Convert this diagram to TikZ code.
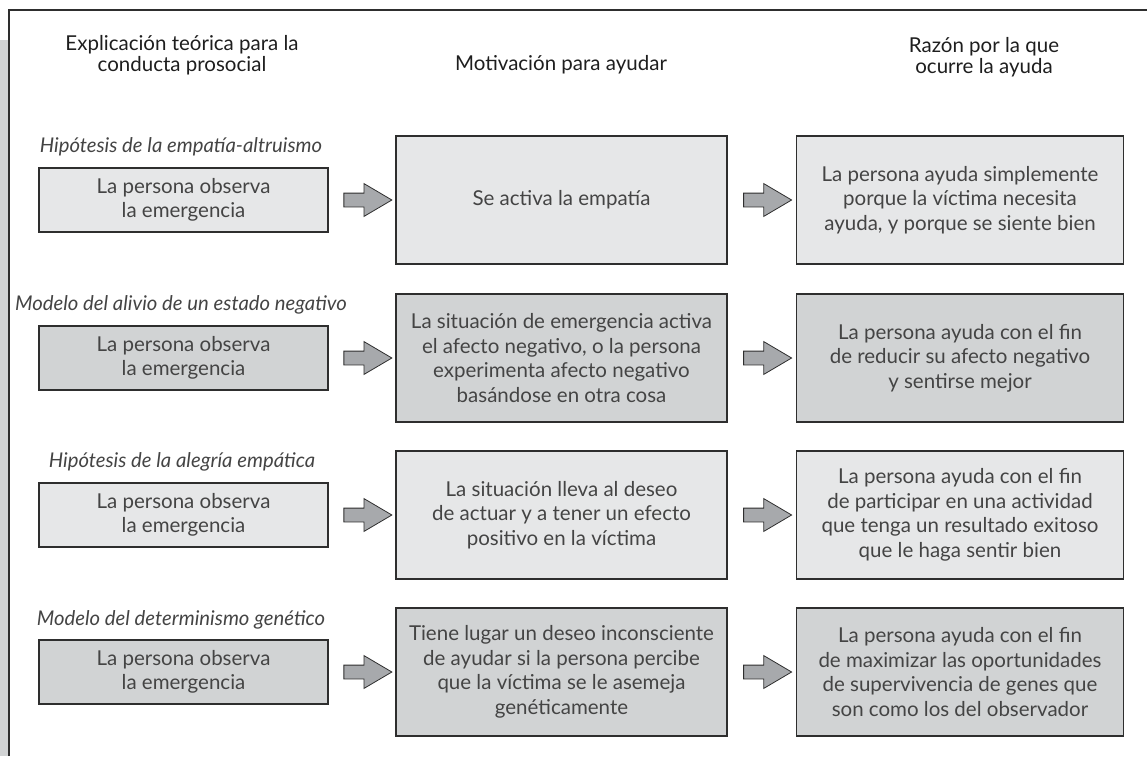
\documentclass[tikz,border=0pt]{standalone}
\usepackage{fontspec}
\setmainfont{Lato}
\usetikzlibrary{shapes.arrows,calc}
\definecolor{lightfill}{HTML}{E6E7E8}
\definecolor{darkfill}{HTML}{D1D3D4}
\definecolor{arrowgray}{HTML}{A7A9AC}
\definecolor{linegray}{HTML}{2E2E2E}
\definecolor{textgray}{HTML}{444444}
\definecolor{headgray}{HTML}{1E1E1E}
\begin{document}
\begin{tikzpicture}
[
    x=1pt, y=-1pt,
    box/.style={draw=linegray, line width=1.2pt, align=center, inner sep=0pt,
        text=textgray, font=\fontsize{20.5}{24.5}\selectfont},
    leftbox/.style={box, minimum width=289pt, minimum height=64pt},
    midbox/.style={box, minimum width=331pt, minimum height=128pt},
    rightbox/.style={box, minimum width=327pt, minimum height=128pt},
    light/.style={fill=lightfill},
    dark/.style={fill=darkfill},
    rowlabel/.style={text=textgray, font=\fontsize{20.3}{22}\selectfont\itshape},
    header/.style={align=center, text=headgray, font=\fontsize{20.5}{21.5}\selectfont},
    blockarrow/.style={single arrow, draw=linegray, fill=arrowgray, line width=0.8pt,
        inner sep=6.5pt, minimum height=48pt, single arrow head extend=9.5pt,
        single arrow tip angle=61}
]
    \useasboundingbox (0,0) rectangle (1147,756);
    % frame and side bar
    \fill[darkfill] (0,40) rectangle (8,756);
    \draw[linegray, line width=1.2pt] (9,756) -- (9,10) -- (1147,10);

    % column headers
    \node[header] (h1) at (182,55) {Explicación teórica para la\\conducta prosocial};
    \node[header] (h2) at (561,65) {Motivación para ayudar};
    \node[header] (h3) at (984,57) {Razón por la que\\ocurre la ayuda};

    % row 1
    \node[rowlabel] (t1) at (181,147) {Hipótesis de la empatía-altruismo};
    \node[leftbox, light] (l1) at (183.5,200) {La persona observa\\la emergencia};
    \node[midbox, light] (m1) at (561.5,200) {Se activa la empatía};
    \node[rightbox, light] (r1) at (960,200) {La persona ayuda simplemente\\porque la víctima necesita\\ayuda, y porque se siente bien};

    % row 2
    \node[rowlabel] (t2) at (181,305) {Modelo del alivio de un estado negativo};
    \node[leftbox, dark] (l2) at (183.5,358) {La persona observa\\la emergencia};
    \node[midbox, dark] (m2) at (561.5,358) {La situación de emergencia activa\\el afecto negativo, o la persona\\experimenta afecto negativo\\basándose en otra cosa};
    \node[rightbox, dark] (r2) at (960,358) {La persona ayuda con el fin\\de reducir su afecto negativo\\y sentirse mejor};

    % row 3
    \node[rowlabel] (t3) at (182,462) {Hipótesis de la alegría empática};
    \node[leftbox, light] (l3) at (183.5,515) {La persona observa\\la emergencia};
    \node[midbox, light] (m3) at (561.5,515) {La situación lleva al deseo\\de actuar y a tener un efecto\\positivo en la víctima};
    \node[rightbox, light] (r3) at (960,515) {La persona ayuda con el fin\\de participar en una actividad\\que tenga un resultado exitoso\\que le haga sentir bien};

    % row 4
    \node[rowlabel] (t4) at (181,620) {Modelo del determinismo genético};
    \node[leftbox, dark] (l4) at (183.5,672) {La persona observa\\la emergencia};
    \node[midbox, dark] (m4) at (561.5,672) {Tiene lugar un deseo inconsciente\\de ayudar si la persona percibe\\que la víctima se le asemeja\\genéticamente};
    \node[rightbox, dark] (r4) at (960,672) {La persona ayuda con el fin\\de maximizar las oportunidades\\de supervivencia de genes que\\son como los del observador};

    % arrows between the columns
    \foreach \i in {1,...,4} {
        \node[blockarrow] (a\i) at ($(l\i.east)!0.5!(m\i.west)$) {};
        \node[blockarrow] (b\i) at ($(m\i.east)!0.5!(r\i.west)$) {};
    }
\end{tikzpicture}
\end{document}
